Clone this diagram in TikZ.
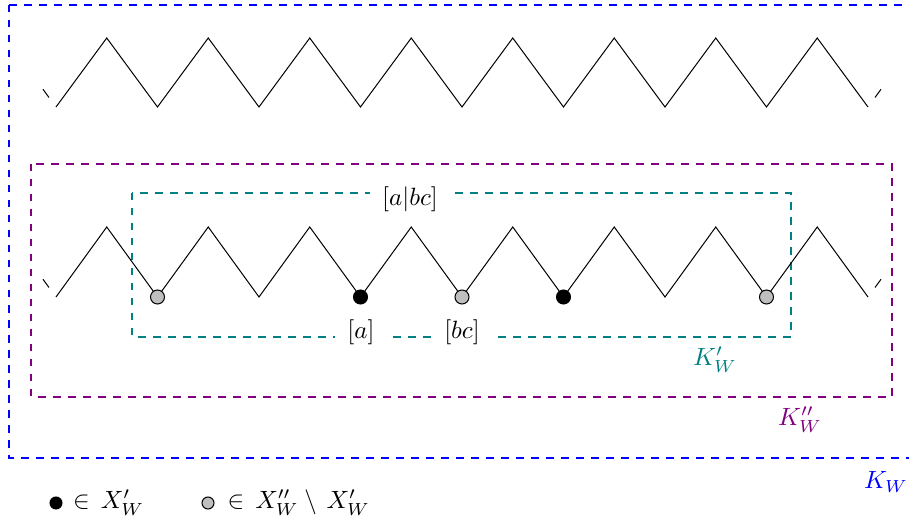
\documentclass[tikz,border=0pt]{standalone}
\usepackage{amsmath,amssymb}
\usetikzlibrary{positioning}
\definecolor{kpurple}{RGB}{128,0,128}

\begin{document}
\begin{tikzpicture}[
    x=0.4pt, y=-0.4pt,
    zz/.style={line width=0.4pt, line join=miter},
    box/.style={dashed, line width=0.8pt},
    lbl/.style={fill=white, inner xsep=5pt, inner ysep=2pt},
    bdot/.style={circle, draw, fill=black, inner sep=0pt, minimum size=5.6pt},
    gdot/.style={bdot, fill=black!25}
  ]
  \useasboundingbox (0,0) rectangle (909,525);
  \clip (0,0) rectangle (909,525);

  % --- outer box K_W ---
  \draw[box, blue] (9,5) rectangle (940,458);
  \node[blue] (kw) at (886,482) {$K_W$};

  % --- top zigzag ---
  \foreach \i in {0,...,8}
    \coordinate (t\i) at (56+101.5*\i,107);
  \foreach \i in {0,...,7}
    \coordinate (tp\i) at (106.75+101.5*\i,38);
  \draw[zz] (t0) \foreach \i [count=\j] in {0,...,7} { -- (tp\i) -- (t\j) };
  \draw[zz] ([shift={(-7,-9.5)}]t0) -- ([shift={(-13,-17.7)}]t0);
  \draw[zz] ([shift={(7,-9.5)}]t8) -- ([shift={(13,-17.7)}]t8);

  % --- box K''_W ---
  \draw[box, kpurple] (31,164) rectangle (892,397);
  \node[kpurple] (kww) at (800,420) {$K''_W$};

  % --- box K'_W ---
  \draw[box, teal] (132,193) rectangle (791,337);
  \node[teal] (kw1) at (715,360) {$K'_W$};
  \node[lbl] (abc) at (410,199) {$[a|bc]$};
  \node[lbl] (la) at (361,332) {$[a]$};
  \node[lbl] (lbc) at (462,332) {$[bc]$};

  % --- bottom zigzag ---
  \foreach \i in {0,...,8}
    \coordinate (b\i) at (56+101.5*\i,297);
  \foreach \i in {0,...,7}
    \coordinate (bp\i) at (106.75+101.5*\i,227);
  \draw[zz] (b0) \foreach \i [count=\j] in {0,...,7} { -- (bp\i) -- (b\j) };
  \draw[zz] ([shift={(-7,-9.5)}]b0) -- ([shift={(-13,-17.7)}]b0);
  \draw[zz] ([shift={(7,-9.5)}]b8) -- ([shift={(13,-17.7)}]b8);

  % marked troughs
  \foreach \i in {1,4,7}
    \node[gdot] (g\i) at (b\i) {};
  \foreach \i in {3,5}
    \node[bdot] (k\i) at (b\i) {};

  % --- legend ---
  \node[bdot, minimum size=4.8pt] (lgb) at (56,503) {};
  \node[right=3.5pt of lgb, inner sep=0.5pt] (lgbt) {$\in\, X'_W$};
  \node[gdot, minimum size=4.8pt] (lgg) at (208,503) {};
  \node[right=4.5pt of lgg, inner sep=0.5pt] (lggt) {$\in\, X''_W \mathbin{\setminus}\, X'_W$};
\end{tikzpicture}
\end{document}
